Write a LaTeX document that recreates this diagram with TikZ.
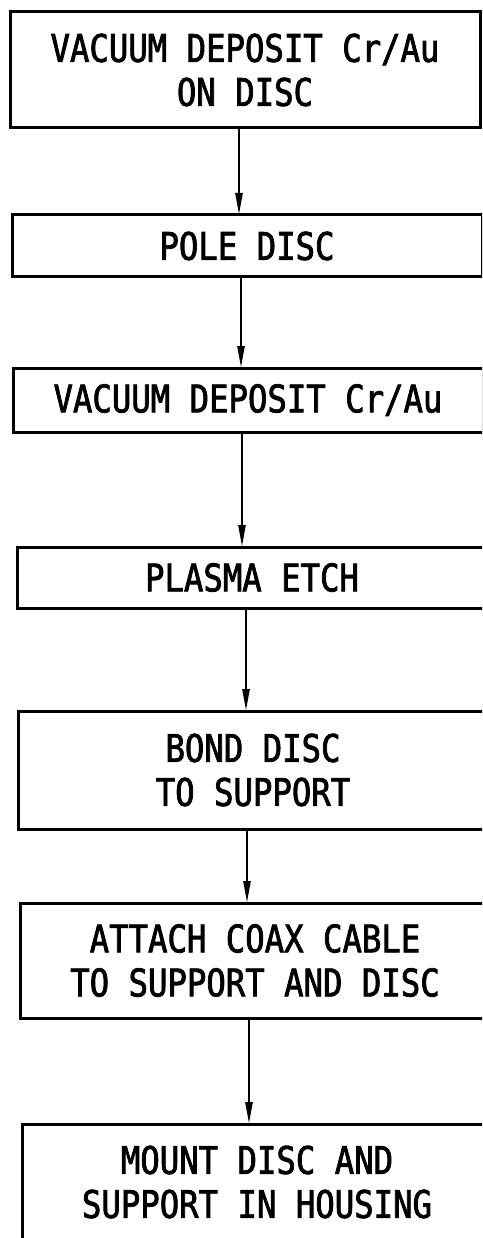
\documentclass[tikz,border=0pt]{standalone}
\usepackage{fontspec}
\newfontfamily\plotfont[FakeStretch=0.85,FakeBold=2]{DejaVu Sans Mono}
\usetikzlibrary{positioning,arrows.meta}

\begin{document}
\begin{tikzpicture}[
		x=1pt,y=1pt,
		>={Triangle[length=22pt,width=7pt]},
		every node/.style={
			draw,
			line width=3pt,
			outer sep=0pt,
			minimum width=470pt,
			inner sep=2pt,
			align=center,
			font=\plotfont\fontsize{38}{44}\selectfont
		}
		]
		\useasboundingbox (0,0) rectangle (482,-1238);
		\clip (0,0) rectangle (482,-1238);
		
		%--------------------------------------------------
		% Nodes
		%--------------------------------------------------
		
		\node (depdisc) [anchor=north west, minimum height=116pt] at (10,-12)
		{VACUUM DEPOSIT Cr/Au\\ON DISC};
		
		\node (pole) [below=87pt of depdisc, xshift=2pt, minimum height=62pt]
		{POLE DISC};
		
		\node (deposit) [below=91pt of pole, xshift=1pt, minimum height=64pt]
		{VACUUM DEPOSIT Cr/Au};
		
		\node (etch) [below=115pt of deposit, xshift=4pt, minimum height=61pt]
		{PLASMA ETCH};
		
		\node (bond) [below=103pt of etch, xshift=1pt, minimum height=118pt]
		{BOND DISC\\TO SUPPORT};
		
		\node (coax) [below=74pt of bond, xshift=2pt, minimum height=115pt]
		{ATTACH COAX CABLE\\TO SUPPORT AND DISC};
		
		\node (mount) [below=106pt of coax, xshift=2pt, minimum height=116pt]
		{MOUNT DISC AND\\SUPPORT IN HOUSING};
		
		%--------------------------------------------------
		% Connections
		%--------------------------------------------------
		
		\draw[->,line width=2.5pt] ([xshift=-6pt]depdisc.south) -- ([xshift=-6pt]depdisc.south |- pole.north);
		
		\draw[->,line width=2.5pt] ([xshift=-6pt]pole.south) -- ([xshift=-6pt]pole.south |- deposit.north);
		
		\draw[->,line width=2.5pt] ([xshift=-6pt]deposit.south) -- ([xshift=-6pt]deposit.south |- etch.north);
		
		\draw[->,line width=2.5pt] ([xshift=-6pt]etch.south) -- ([xshift=-6pt]etch.south |- bond.north);
		
		\draw[->,line width=2.5pt] ([xshift=-6pt]bond.south) -- ([xshift=-6pt]bond.south |- coax.north);
		
		\draw[->,line width=2.5pt] ([xshift=-6pt]coax.south) -- ([xshift=-6pt]coax.south |- mount.north);
		
	\end{tikzpicture}
\end{document}
